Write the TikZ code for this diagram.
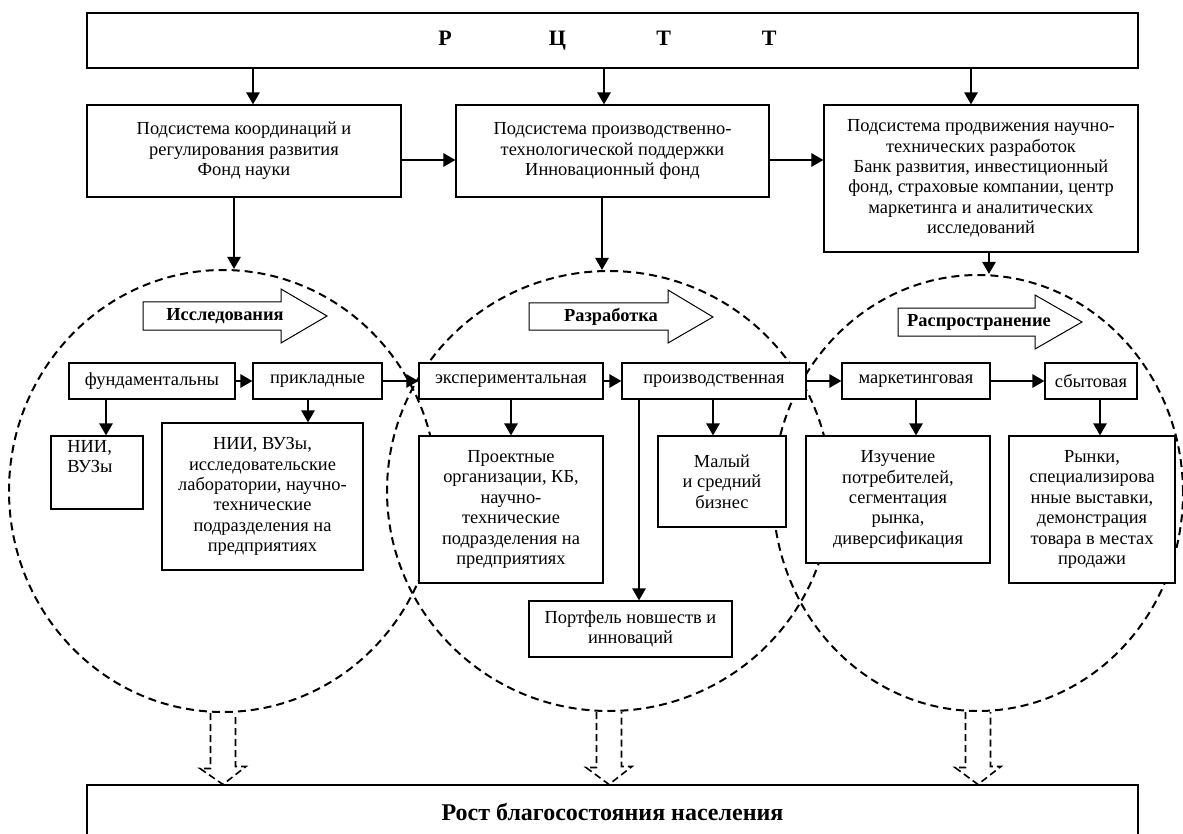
\documentclass[tikz,border=0pt]{standalone}
\usepackage{fontspec}
\setmainfont{Liberation Serif}
\usetikzlibrary{arrows.meta,shapes.geometric,calc}
\begin{document}
\begin{tikzpicture}[x=0.5pt,y=-0.5pt,
  box/.style={draw, line width=0.55pt, fill=white, inner sep=2pt, align=center,
    font=\fontsize{9.2}{10.2}\selectfont},
  txt/.style={inner sep=0pt, align=left, font=\fontsize{9.2}{10.2}\selectfont},
  arr/.style={line width=1.25pt, -{Triangle[length=6pt,width=6.5pt]}},
  circ/.style={draw, ellipse, line width=1pt, dash pattern=on 4pt off 2.5pt, inner sep=0pt},
  blk/.style={draw, line width=0.5pt, fill=white},
  lbl/.style={inner sep=0pt, font=\fontsize{9.2}{10.2}\selectfont\bfseries},
  dbl/.style={line width=0.8pt, dash pattern=on 3.5pt off 2pt}
]
\useasboundingbox (0,0) rectangle (1183,834);
\fill[white] (0,0) rectangle (1183,834);

% dashed circles (behind everything)
\node[circ, minimum width=214pt, minimum height=221pt] (c1) at (223,491) {};
\node[circ, minimum width=222pt, minimum height=220pt] (c2) at (609,491) {};
\node[circ, minimum width=205pt, minimum height=218pt] (c3) at (978,493) {};

% top box
\node[box, minimum width=525.5pt, minimum height=27.5pt] (top) at (612.5,40.5)
  {\hspace{-5pt}\fontsize{11}{13}\selectfont\bfseries Р\hspace{48.5pt}Ц\hspace{45.2pt}Т\hspace{45.5pt}Т};

% subsystem boxes
\node[box, minimum width=157pt, minimum height=46pt] (box1) at (244,151)
  {Подсистема координаций и\\регулирования развития\\Фонд науки};
\node[box, minimum width=156.5pt, minimum height=46pt] (box2) at (612.5,151)
  {Подсистема производственно-\\технологической поддержки\\Инновационный фонд};
\node[box, minimum width=157pt, minimum height=73.5pt] (box3) at (981,178.5)
  {Подсистема продвижения научно-\\технических разработок\\Банк развития, инвестиционный\\фонд, страховые компании, центр\\маркетинга и аналитических\\исследований};

% block arrows
\draw[blk] (143,302) -- (281,302) -- (281,289) -- (327,316) -- (281,343) -- (281,330) -- (143,330) -- cycle;
\node[lbl] (l1) at (225,316) {Исследования};
\draw[blk] (529,303) -- (668,303) -- (668,290) -- (713,317) -- (668,343) -- (668,330) -- (529,330) -- cycle;
\node[lbl] (l2) at (611,317) {Разработка};
\draw[blk] (898,308) -- (1035,308) -- (1035,295) -- (1082,322) -- (1035,349) -- (1035,336) -- (898,336) -- cycle;
\node[lbl] (l3) at (979,322) {Распространение};

% row of stages
\node[box, minimum width=83pt, minimum height=18pt] (fund) at (152,381) {фундаментальны};
\node[box, minimum width=64.5pt, minimum height=18pt] (prikl) at (317.5,381) {прикладные};
\node[box, minimum width=92pt, minimum height=18pt] (eksp) at (511,381) {экспериментальная};
\node[box, minimum width=92pt, minimum height=18pt] (proizv) at (714,381) {производственная};
\node[box, minimum width=74pt, minimum height=18pt] (mark) at (916,381) {маркетинговая};
\node[box, minimum width=46pt, minimum height=18pt] (sbyt) at (1091,381) {сбытовая};

% lower boxes
\node[box, minimum width=46pt, minimum height=36.5pt] (nii1) at (97,472.5) {};
\node[txt, anchor=north west] (nii1t) at (67,440) {НИИ,\\ВУЗы};
\node[box, minimum width=100.5pt, minimum height=73.5pt] (big) at (262.5,496.5)
  {НИИ, ВУЗы,\\исследовательские\\лаборатории, научно-\\технические\\подразделения на\\предприятиях};
\node[box, minimum width=92pt, minimum height=73.5pt] (proekt) at (511,509.5)
  {Проектные\\организации, КБ,\\научно-\\технические\\подразделения на\\предприятиях};
\node[box, minimum width=64pt, minimum height=45.5pt] (maly) at (722,481.5)
  {Малый\\и средний\\бизнес};
\node[box, minimum width=101.5pt, minimum height=28pt] (port) at (630.5,629)
  {Портфель новшеств и\\инноваций};
\node[box, minimum width=92pt, minimum height=63.5pt] (izuch) at (898,499.5)
  {Изучение\\потребителей,\\сегментация\\рынка,\\диверсификация};
\node[box, minimum width=83pt, minimum height=73.5pt] (rynki) at (1092,509.5)
  {Рынки,\\специализирова\\нные выставки,\\демонстрация\\товара в местах\\продажи};

% bottom box
\node[box, minimum width=525.5pt, minimum height=27.5pt, font=\fontsize{12}{14}\selectfont\bfseries] (bottom) at (612.5,812.5)
  {Рост благосостояния населения};

% helper coordinates for connector x positions
\coordinate (xa1) at (253,0);
\coordinate (xa2) at (604,0);
\coordinate (xa3) at (971,0);
\coordinate (xb1) at (234,0);
\coordinate (xb2) at (602,0);
\coordinate (xb3) at (989,0);
\coordinate (ya) at (0,160);
\coordinate (xd1) at (106,0);
\coordinate (xd2) at (308,0);
\coordinate (xd3) at (511,0);
\coordinate (xd4) at (713,0);
\coordinate (xd5) at (639,0);
\coordinate (xd6) at (916,0);
\coordinate (xd7) at (1100,0);

% connectors
\draw[arr] (xa1 |- top.south) -- (xa1 |- box1.north);
\draw[arr] (xa2 |- top.south) -- (xa2 |- box2.north);
\draw[arr] (xa3 |- top.south) -- (xa3 |- box3.north);
\draw[arr] (box1.east |- ya) -- (box2.west |- ya);
\draw[arr] (box2.east |- ya) -- (box3.west |- ya);
\draw[arr] (xb1 |- box1.south) -- (xb1 |- c1.north);
\draw[arr] (xb2 |- box2.south) -- (xb2 |- c2.north);
\draw[arr] (xb3 |- box3.south) -- (xb3 |- c3.north);

\draw[arr] (fund) -- (prikl);
\draw[arr] (prikl) -- (eksp);
\draw[arr] (eksp) -- (proizv);
\draw[arr] (proizv) -- (mark);
\draw[arr] (mark) -- (sbyt);

\draw[arr] (xd1 |- fund.south) -- (xd1 |- nii1.north);
\draw[arr] (xd2 |- prikl.south) -- (xd2 |- big.north);
\draw[arr] (xd3 |- eksp.south) -- (xd3 |- proekt.north);
\draw[arr] (xd4 |- proizv.south) -- (xd4 |- maly.north);
\draw[arr] (xd5 |- proizv.south) -- (xd5 |- port.north);
\draw[arr] (xd6 |- mark.south) -- (xd6 |- izuch.north);
\draw[arr] (xd7 |- sbyt.south) -- (xd7 |- rynki.north);

% dashed hollow arrows to the bottom box
\foreach \c in {c1,c2,c3}{
  \draw[dbl] ([xshift=-6.25pt]\c.south) -- ++(0,55.5) -- ++(-10.5,0)
    -- (\c.south |- bottom.north) -- ++(23,-18) -- ++(-10.5,0)
    -- ([xshift=6.25pt]\c.south);
}
\end{tikzpicture}
\end{document}
